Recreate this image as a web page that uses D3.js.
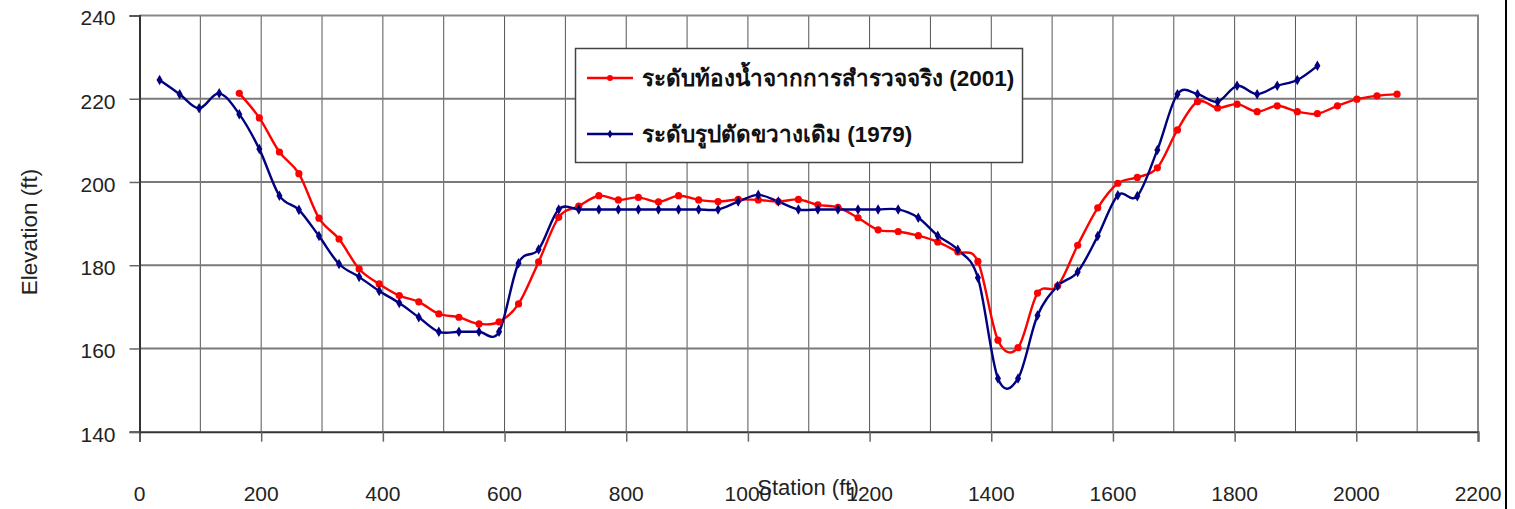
<!DOCTYPE html>
<html>
<head>
<meta charset="utf-8">
<script src="https://cdn.jsdelivr.net/npm/d3@7"></script>
<style>
  body { margin: 0; background: #fff; }
  svg { display: block; font-family: "Liberation Sans", Arial, sans-serif; }
</style>
</head>
<body>
<svg width="1515" height="509"></svg>
<script>
// stations (ft) - both surveys use the same 33 ft spacing
var stations = [33, 66, 98, 131, 164, 197, 230, 262, 295, 328, 361, 394, 427, 459, 492, 525,
  558, 591, 623, 656, 689, 722, 755, 787, 820, 853, 886, 919, 951, 984, 1017, 1050, 1083,
  1115, 1148, 1181, 1214, 1247, 1280, 1312, 1345, 1378, 1411, 1444, 1476, 1509, 1542, 1575,
  1608, 1640, 1673, 1706, 1739, 1772, 1804, 1837, 1870, 1903, 1936, 1969, 2001, 2034, 2067];

// 1979 cross section, stations[0..58]
var elev1979 = [224.5, 221.1, 217.7, 221.3, 216.3, 207.9, 196.7, 193.3, 187.0, 180.3, 177.2,
  173.8, 170.9, 167.5, 164.0, 164.0, 164.0, 164.0, 180.5, 183.8, 193.4, 193.4, 193.4, 193.4,
  193.4, 193.4, 193.4, 193.4, 193.4, 195.3, 196.9, 195.3, 193.4, 193.4, 193.4, 193.4, 193.4,
  193.4, 191.4, 187.1, 183.7, 177.0, 152.8, 152.8, 167.9, 175.0, 178.4, 187.0, 196.8, 196.6,
  207.7, 221.1, 221.1, 219.3, 223.1, 221.1, 223.1, 224.5, 227.9];

// 2001 survey, stations[4..62]
var elev2001 = [221.3, 215.4, 207.2, 202.0, 191.3, 186.3, 179.1, 175.5, 172.7, 171.2, 168.3,
  167.5, 165.9, 166.4, 170.7, 180.8, 191.5, 194.2, 196.7, 195.7, 196.3, 195.2, 196.7, 195.7,
  195.3, 195.8, 195.7, 195.3, 195.8, 194.5, 193.9, 191.4, 188.5, 188.1, 187.1, 185.6, 183.2,
  180.9, 162.0, 160.2, 173.3, 175.0, 184.8, 193.8, 199.7, 201.1, 203.4, 212.5, 219.3, 217.8,
  218.7, 216.9, 218.3, 216.9, 216.4, 218.3, 219.9, 220.7, 221.1];

var xTicks = [0, 200, 400, 600, 800, 1000, 1200, 1400, 1600, 1800, 2000, 2200];
var yTicks = [140, 160, 180, 200, 220, 240];
var legendLabels = ["ระดับท้องน้ำจากการสำรวจจริง (2001)", "ระดับรูปตัดขวางเดิม (1979)"];

var data1979 = elev1979.map(function(e, i) { return { s: stations[i], e: e }; });
var data2001 = elev2001.map(function(e, i) { return { s: stations[i + 4], e: e }; });

var svg = d3.select("svg");
var plotL = 139.5, plotR = 1478, plotT = 15.5, plotB = 431.7;

var x = d3.scaleLinear().domain([0, 2200]).range([plotL, plotR]);
var y = d3.scaleLinear().domain([140, 240]).range([plotB, plotT]);

// vertical grid every 100 ft
svg.append("g").selectAll("line")
  .data(d3.range(100, 2200, 100))
  .enter().append("line")
  .attr("x1", function(d) { return x(d); })
  .attr("x2", function(d) { return x(d); })
  .attr("y1", plotT).attr("y2", plotB)
  .attr("stroke", "#555").attr("stroke-width", 1);

// horizontal grid
svg.append("g").selectAll("line")
  .data(yTicks.slice(1, -1))
  .enter().append("line")
  .attr("x1", plotL).attr("x2", plotR)
  .attr("y1", function(d) { return y(d); })
  .attr("y2", function(d) { return y(d); })
  .attr("stroke", "#7a7a7a").attr("stroke-width", 2);

// plot frame top / right
svg.append("path")
  .attr("d", "M" + plotL + "," + plotT + "H" + plotR + "V" + plotB)
  .attr("fill", "none").attr("stroke", "#888").attr("stroke-width", 2);

// axes
var xAxis = d3.axisBottom(x).tickValues(xTicks).tickSize(10).tickFormat("");
var gx = svg.append("g").attr("transform", "translate(0," + plotB + ")").call(xAxis);
gx.select(".domain").attr("stroke", "#333").attr("stroke-width", 2);
gx.selectAll(".tick line").attr("stroke", "#666").attr("stroke-width", 1.5);

svg.append("g").selectAll("text")
  .data(xTicks)
  .enter().append("text")
  .attr("x", function(d) { return x(d); })
  .attr("y", 501)
  .attr("text-anchor", "middle")
  .attr("font-size", 21)
  .attr("fill", "#222")
  .text(function(d) { return d; });

var yAxis = d3.axisLeft(y).tickValues(yTicks).tickSize(10).tickPadding(14);
var gy = svg.append("g").attr("transform", "translate(" + plotL + ",0)").call(yAxis);
gy.select(".domain").attr("stroke", "#333").attr("stroke-width", 2);
gy.selectAll(".tick line").attr("stroke", "#666").attr("stroke-width", 1.5);
gy.selectAll(".tick text").attr("font-size", 21).attr("fill", "#222")
  .attr("font-family", "Liberation Sans, Arial, sans-serif").attr("dy", "0.45em");

// axis titles
svg.append("text")
  .attr("x", 808).attr("y", 495)
  .attr("text-anchor", "middle")
  .attr("font-size", 22).attr("fill", "#222")
  .text("Station (ft)");

svg.append("text")
  .attr("transform", "translate(37,232) rotate(-90)")
  .attr("text-anchor", "middle")
  .attr("font-size", 22.5).attr("fill", "#222")
  .text("Elevation (ft)");

// series
var line = d3.line()
  .x(function(d) { return x(d.s); })
  .y(function(d) { return y(d.e); })
  .curve(d3.curveCardinal.tension(0));

svg.append("path").datum(data2001)
  .attr("d", line).attr("fill", "none")
  .attr("stroke", "#ff0000").attr("stroke-width", 2.4);

svg.append("path").datum(data1979)
  .attr("d", line).attr("fill", "none")
  .attr("stroke", "#000080").attr("stroke-width", 2.4);

svg.append("g").selectAll("circle")
  .data(data2001)
  .enter().append("circle")
  .attr("cx", function(d) { return x(d.s); })
  .attr("cy", function(d) { return y(d.e); })
  .attr("r", 3.6)
  .attr("fill", "#ff0000");

var diamond = d3.symbol().type(d3.symbolDiamond).size(32);
svg.append("g").selectAll("path")
  .data(data1979)
  .enter().append("path")
  .attr("transform", function(d) { return "translate(" + x(d.s) + "," + y(d.e) + ")"; })
  .attr("d", diamond)
  .attr("fill", "#000080");

// right chart border
svg.append("line")
  .attr("x1", 1506).attr("x2", 1506).attr("y1", 0).attr("y2", 509)
  .attr("stroke", "#000").attr("stroke-width", 2);

// legend
var lg = svg.append("g");
lg.append("rect")
  .attr("x", 575.5).attr("y", 48.5).attr("width", 447).attr("height", 114)
  .attr("fill", "#fff").attr("stroke", "#444").attr("stroke-width", 1.5);

var legendColors = ["#ff0000", "#000080"];
var legendY = [78, 134];
legendLabels.forEach(function(label, i) {
  lg.append("line")
    .attr("x1", 587).attr("x2", 633)
    .attr("y1", legendY[i]).attr("y2", legendY[i])
    .attr("stroke", legendColors[i]).attr("stroke-width", 2.4);
  if (i === 0) {
    lg.append("circle").attr("cx", 610).attr("cy", legendY[i]).attr("r", 3).attr("fill", legendColors[i]);
  } else {
    lg.append("path").attr("transform", "translate(610," + legendY[i] + ")")
      .attr("d", d3.symbol().type(d3.symbolDiamond).size(22)).attr("fill", legendColors[i]);
  }
  lg.append("text")
    .attr("x", 642).attr("y", legendY[i] + 8)
    .attr("font-size", 22.5).attr("font-weight", "bold").attr("fill", "#111")
    .text(label);
});
</script>
</body>
</html>
